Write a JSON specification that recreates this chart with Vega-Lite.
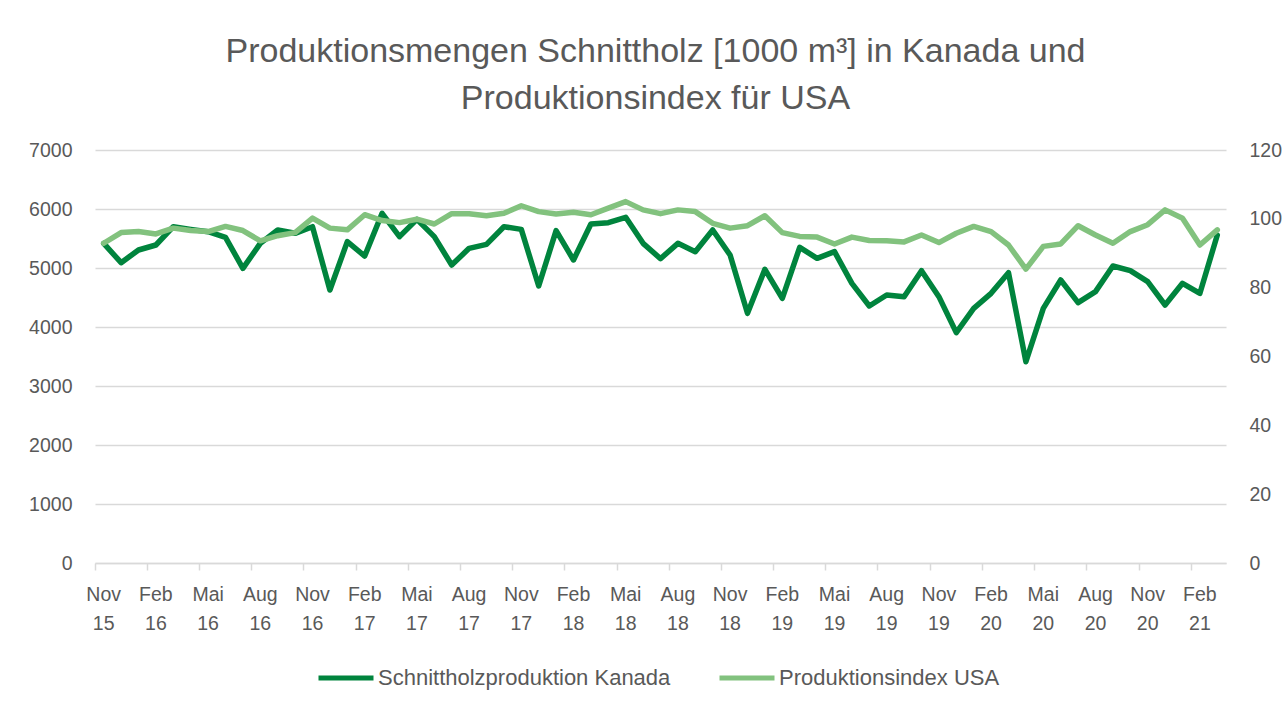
{
  "$schema": "https://vega.github.io/schema/vega-lite/v6.json",
  "width": 1131,
  "height": 413,
  "autosize": {"type": "none"},
  "padding": {"left": 95, "top": 150, "right": 61, "bottom": 148},
  "background": "white",
  "title": {
    "text": ["Produktionsmengen Schnittholz [1000 m³] in Kanada und", "Produktionsindex für USA"],
    "anchor": "middle",
    "frame": "group",
    "dx": -5,
    "offset": 24,
    "fontSize": 34,
    "lineHeight": 47,
    "font": "Liberation Sans",
    "fontWeight": "normal",
    "color": "#595959"
  },
  "config": {
    "view": {"stroke": null},
    "font": "Liberation Sans",
    "axis": {"labelFont": "Liberation Sans", "labelFontSize": 19.5, "labelColor": "#595959"},
    "legend": {"labelFont": "Liberation Sans", "labelFontSize": 22, "labelColor": "#595959"}
  },
  "data": {
    "values": [
      {"m": "Nov 15", "kan": 5418, "usa": 92.9},
      {"m": "Dez 15", "kan": 5090, "usa": 96.0},
      {"m": "Jan 16", "kan": 5305, "usa": 96.3},
      {"m": "Feb 16", "kan": 5390, "usa": 95.6},
      {"m": "Mär 16", "kan": 5700, "usa": 97.3},
      {"m": "Apr 16", "kan": 5655, "usa": 96.6},
      {"m": "Mai 16", "kan": 5616, "usa": 96.3},
      {"m": "Jun 16", "kan": 5520, "usa": 97.8},
      {"m": "Jul 16", "kan": 4994, "usa": 96.6},
      {"m": "Aug 16", "kan": 5418, "usa": 93.6},
      {"m": "Sep 16", "kan": 5644, "usa": 95.1},
      {"m": "Okt 16", "kan": 5588, "usa": 96.0},
      {"m": "Nov 16", "kan": 5700, "usa": 100.2},
      {"m": "Dez 16", "kan": 4627, "usa": 97.3},
      {"m": "Jan 17", "kan": 5446, "usa": 96.8},
      {"m": "Feb 17", "kan": 5203, "usa": 101.2},
      {"m": "Mär 17", "kan": 5927, "usa": 99.5},
      {"m": "Apr 17", "kan": 5531, "usa": 98.9},
      {"m": "Mai 17", "kan": 5825, "usa": 99.9},
      {"m": "Jun 17", "kan": 5531, "usa": 98.5},
      {"m": "Jul 17", "kan": 5051, "usa": 101.5},
      {"m": "Aug 17", "kan": 5333, "usa": 101.5},
      {"m": "Sep 17", "kan": 5401, "usa": 100.9},
      {"m": "Okt 17", "kan": 5700, "usa": 101.6},
      {"m": "Nov 17", "kan": 5655, "usa": 103.8},
      {"m": "Dez 17", "kan": 4695, "usa": 102.1},
      {"m": "Jan 18", "kan": 5633, "usa": 101.4},
      {"m": "Feb 18", "kan": 5136, "usa": 101.9},
      {"m": "Mär 18", "kan": 5746, "usa": 101.2},
      {"m": "Apr 18", "kan": 5768, "usa": 103.1},
      {"m": "Mai 18", "kan": 5859, "usa": 105.0},
      {"m": "Jun 18", "kan": 5418, "usa": 102.6},
      {"m": "Jul 18", "kan": 5158, "usa": 101.5},
      {"m": "Aug 18", "kan": 5418, "usa": 102.6},
      {"m": "Sep 18", "kan": 5277, "usa": 102.1},
      {"m": "Okt 18", "kan": 5644, "usa": 98.7},
      {"m": "Nov 18", "kan": 5220, "usa": 97.3},
      {"m": "Dez 18", "kan": 4232, "usa": 98.0},
      {"m": "Jan 19", "kan": 4977, "usa": 100.9},
      {"m": "Feb 19", "kan": 4486, "usa": 96.0},
      {"m": "Mär 19", "kan": 5350, "usa": 94.9},
      {"m": "Apr 19", "kan": 5164, "usa": 94.7},
      {"m": "Mai 19", "kan": 5277, "usa": 92.7},
      {"m": "Jun 19", "kan": 4740, "usa": 94.7},
      {"m": "Jul 19", "kan": 4356, "usa": 93.7},
      {"m": "Aug 19", "kan": 4542, "usa": 93.6},
      {"m": "Sep 19", "kan": 4514, "usa": 93.3},
      {"m": "Okt 19", "kan": 4955, "usa": 95.3},
      {"m": "Nov 19", "kan": 4514, "usa": 93.1},
      {"m": "Dez 19", "kan": 3904, "usa": 95.8},
      {"m": "Jan 20", "kan": 4316, "usa": 97.8},
      {"m": "Feb 20", "kan": 4571, "usa": 96.3},
      {"m": "Mär 20", "kan": 4921, "usa": 92.4},
      {"m": "Apr 20", "kan": 3412, "usa": 85.4},
      {"m": "Mai 20", "kan": 4316, "usa": 92.0},
      {"m": "Jun 20", "kan": 4797, "usa": 92.7},
      {"m": "Jul 20", "kan": 4412, "usa": 98.0},
      {"m": "Aug 20", "kan": 4599, "usa": 95.3},
      {"m": "Sep 20", "kan": 5034, "usa": 92.9},
      {"m": "Okt 20", "kan": 4955, "usa": 96.3},
      {"m": "Nov 20", "kan": 4768, "usa": 98.3},
      {"m": "Dez 20", "kan": 4373, "usa": 102.6},
      {"m": "Jan 21", "kan": 4740, "usa": 100.2},
      {"m": "Feb 21", "kan": 4571, "usa": 92.4},
      {"m": "Mär 21", "kan": 5559, "usa": 96.8}
    ]
  },
  "encoding": {
    "x": {
      "field": "m",
      "type": "nominal",
      "sort": null,
      "scale": {"type": "band", "paddingInner": 0, "paddingOuter": 0},
      "axis": {
        "title": null,
        "values": ["Nov 15", "Feb 16", "Mai 16", "Aug 16", "Nov 16", "Feb 17", "Mai 17", "Aug 17", "Nov 17", "Feb 18", "Mai 18", "Aug 18", "Nov 18", "Feb 19", "Mai 19", "Aug 19", "Nov 19", "Feb 20", "Mai 20", "Aug 20", "Nov 20", "Feb 21"],
        "labelExpr": "split(datum.label, ' ')",
        "labelAngle": 0,
        "labelLineHeight": 29,
        "labelPadding": 15,
        "bandPosition": 0,
        "tickSize": 7,
        "tickColor": "#d9d9d9",
        "tickWidth": 1.5,
        "domainColor": "#d9d9d9",
        "domainWidth": 1.5,
        "grid": false
      }
    }
  },
  "layer": [
    {
      "mark": {"type": "line", "strokeWidth": 5.5, "strokeJoin": "round", "strokeCap": "round"},
      "encoding": {
        "y": {
          "field": "kan",
          "type": "quantitative",
          "scale": {"domain": [0, 7000], "nice": false},
          "axis": {
            "title": null,
            "orient": "left",
            "values": [0, 1000, 2000, 3000, 4000, 5000, 6000, 7000],
            "format": "d",
            "ticks": false,
            "domain": false,
            "labelPadding": 23,
            "grid": true,
            "gridColor": "#d9d9d9",
            "gridWidth": 1.5
          }
        },
        "color": {
          "datum": "Schnittholzproduktion Kanada",
          "type": "nominal",
          "scale": {"domain": ["Schnittholzproduktion Kanada", "Produktionsindex USA"], "range": ["#00843D", "#82C27E"]},
          "legend": {
            "title": null,
            "orient": "none",
            "legendX": 221,
            "legendY": 498,
            "direction": "horizontal",
            "symbolType": "stroke",
            "symbolSize": 3025,
            "symbolStrokeWidth": 5,
            "labelOffset": 2,
            "labelLimit": 0,
            "columnPadding": 38
          }
        }
      }
    },
    {
      "mark": {"type": "line", "strokeWidth": 5.5, "strokeJoin": "round", "strokeCap": "round"},
      "encoding": {
        "y": {
          "field": "usa",
          "type": "quantitative",
          "scale": {"domain": [0, 120], "nice": false},
          "axis": {
            "title": null,
            "orient": "right",
            "values": [0, 20, 40, 60, 80, 100, 120],
            "ticks": false,
            "domain": false,
            "labelPadding": 23,
            "grid": false
          }
        },
        "color": {"datum": "Produktionsindex USA", "type": "nominal"}
      }
    }
  ],
  "resolve": {"scale": {"y": "independent"}}
}
